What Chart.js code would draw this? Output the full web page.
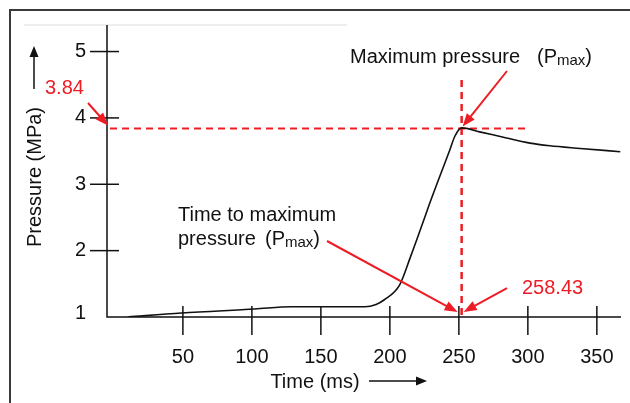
<!DOCTYPE html>
<html>
<head>
<meta charset="utf-8">
<script src="https://cdn.jsdelivr.net/npm/chart.js@4/dist/chart.umd.min.js"></script>
<style>
  html, body { margin: 0; padding: 0; background: #fff; }
  canvas { display: block; }
</style>
</head>
<body>
<canvas id="chart" width="630" height="403"></canvas>
<script>
// Curve (time in ms, pressure in MPa)
const timeMs = [10, 49, 102, 129, 151, 182, 190, 196, 207, 215, 222, 229, 236, 243.5, 247, 252, 265, 280, 301.5, 316, 338, 367];
const pressure = [1.00, 1.06, 1.12, 1.155, 1.155, 1.155, 1.19, 1.26, 1.48, 1.91, 2.31, 2.72, 3.11, 3.52, 3.72, 3.85, 3.79, 3.72, 3.62, 3.58, 3.54, 3.49];

// Tick labels
const xTicks = [50, 100, 150, 200, 250, 300, 350];
const yTicks = [1, 2, 3, 4, 5];

// Peak markers (as drawn) and their label texts
const peakTime = 252;
const peakPressure = 3.84;
const peakTimeLabel = '258.43';
const peakPressureLabel = '3.84';
const hLineTimes = [-2.8, 300];
const vLinePressures = [4.57, 1];

const RED = '#ee1c24';
const FONT = '"Liberation Sans", Arial, sans-serif';

function arrow(ctx, x1, y1, x2, y2) {
    const ang = Math.atan2(y2 - y1, x2 - x1);
    const len = 13, half = 5;
    ctx.save();
    ctx.strokeStyle = RED;
    ctx.fillStyle = RED;
    ctx.lineWidth = 2;
    ctx.beginPath();
    ctx.moveTo(x1, y1);
    ctx.lineTo(x2 - Math.cos(ang) * len * 0.8, y2 - Math.sin(ang) * len * 0.8);
    ctx.stroke();
    ctx.beginPath();
    ctx.moveTo(x2, y2);
    ctx.lineTo(x2 - Math.cos(ang) * len - Math.sin(ang) * half, y2 - Math.sin(ang) * len + Math.cos(ang) * half);
    ctx.lineTo(x2 - Math.cos(ang) * len + Math.sin(ang) * half, y2 - Math.sin(ang) * len - Math.cos(ang) * half);
    ctx.closePath();
    ctx.fill();
    ctx.restore();
}

// draws "(Pmax)" with a subscript, starting at x
function pmax(ctx, x, y) {
    ctx.font = '20px ' + FONT;
    ctx.fillText('(P', x, y);
    x += ctx.measureText('(P').width;
    ctx.font = '15px ' + FONT;
    ctx.fillText('max', x, y + 4);
    x += ctx.measureText('max').width;
    ctx.font = '20px ' + FONT;
    ctx.fillText(')', x, y);
    return x + ctx.measureText(')').width;
}

const axesPlugin = {
    id: 'handAxes',
    beforeDatasetsDraw(chart) {
        const ctx = chart.ctx;
        const xs = chart.scales.x, ys = chart.scales.y;
        const area = chart.chartArea;
        ctx.save();
        // frame
        ctx.strokeStyle = '#3a3a3a';
        ctx.lineWidth = 2;
        ctx.beginPath();
        ctx.moveTo(10, 403);
        ctx.lineTo(10, 10);
        ctx.lineTo(630, 10);
        ctx.stroke();
        ctx.strokeStyle = '#eeeeee';
        ctx.beginPath();
        ctx.moveTo(24, 25);
        ctx.lineTo(347, 25);
        ctx.stroke();

        // axes
        ctx.strokeStyle = '#111';
        ctx.lineWidth = 1.5;
        ctx.beginPath();
        ctx.moveTo(area.left, area.top);
        ctx.lineTo(area.left, area.bottom);
        ctx.lineTo(area.right, area.bottom);
        ctx.stroke();

        ctx.fillStyle = '#111';
        ctx.font = '20px ' + FONT;
        ctx.textBaseline = 'middle';
        ctx.textAlign = 'center';
        xTicks.forEach(v => {
            const px = xs.getPixelForValue(v);
            ctx.beginPath();
            ctx.moveTo(px, area.bottom - 11);
            ctx.lineTo(px, area.bottom + 18);
            ctx.stroke();
            ctx.fillText(String(v), px, area.bottom + 40);
        });
        ctx.textAlign = 'right';
        yTicks.forEach(v => {
            const py = ys.getPixelForValue(v);
            if (v > ys.min) {
                ctx.beginPath();
                ctx.moveTo(area.left - 17, py);
                ctx.lineTo(area.left + 12, py);
                ctx.stroke();
            }
            ctx.fillText(String(v), area.left - 21, v > ys.min ? py : py - 4);
        });

        // axis titles with arrows
        ctx.textAlign = 'center';
        ctx.fillText('Time (ms)', 315, 382);
        ctx.beginPath();
        ctx.moveTo(369, 381);
        ctx.lineTo(418, 381);
        ctx.stroke();
        ctx.beginPath();
        ctx.moveTo(427, 381);
        ctx.lineTo(416, 376.5);
        ctx.lineTo(416, 385.5);
        ctx.closePath();
        ctx.fill();

        ctx.save();
        ctx.translate(35, 177);
        ctx.rotate(-Math.PI / 2);
        ctx.fillText('Pressure (MPa)', 0, 0);
        ctx.restore();
        ctx.beginPath();
        ctx.moveTo(34, 89);
        ctx.lineTo(34, 56);
        ctx.stroke();
        ctx.beginPath();
        ctx.moveTo(34, 46);
        ctx.lineTo(29.5, 57);
        ctx.lineTo(38.5, 57);
        ctx.closePath();
        ctx.fill();
        ctx.restore();
    },
    afterDatasetsDraw(chart) {
        const ctx = chart.ctx;
        const xs = chart.scales.x, ys = chart.scales.y;
        const area = chart.chartArea;
        const peakX = xs.getPixelForValue(peakTime);
        const peakY = ys.getPixelForValue(peakPressure);
        ctx.save();
        ctx.textBaseline = 'middle';
        ctx.textAlign = 'left';

        // Maximum pressure label
        ctx.fillStyle = '#111';
        ctx.font = '20px ' + FONT;
        ctx.fillText('Maximum pressure', 350, 57);
        pmax(ctx, 537, 57);
        arrow(ctx, 507, 71, peakX + 1, peakY - 2);

        // Time to maximum pressure label
        ctx.fillStyle = '#111';
        ctx.font = '20px ' + FONT;
        ctx.fillText('Time to maximum', 178, 215);
        ctx.fillText('pressure', 178, 239);
        pmax(ctx, 265, 239);
        arrow(ctx, 327, 241, peakX - 4, area.bottom - 5);

        // red value labels
        ctx.fillStyle = RED;
        ctx.font = '20px ' + FONT;
        ctx.fillText(peakTimeLabel, 522, 288);
        arrow(ctx, 507, 288, peakX + 2, area.bottom - 5);
        ctx.fillText(peakPressureLabel, 45, 88);
        arrow(ctx, 88, 103, area.left + 1, peakY - 3);
        ctx.restore();
    }
};

function init() {
    const ctx = document.getElementById('chart').getContext('2d');
    new Chart(ctx, {
        type: 'line',
        data: {
            datasets: [
                {
                    data: timeMs.map((t, i) => ({ x: t, y: pressure[i] })),
                    borderColor: '#111',
                    borderWidth: 1.6,
                    pointRadius: 0,
                    cubicInterpolationMode: 'monotone'
                },
                {
                    data: hLineTimes.map(t => ({ x: t, y: peakPressure })),
                    borderColor: RED,
                    borderWidth: 2,
                    borderDash: [7, 5],
                    pointRadius: 0
                },
                {
                    data: vLinePressures.map(p => ({ x: peakTime, y: p })),
                    borderColor: RED,
                    borderWidth: 2.5,
                    borderDash: [7, 5],
                    pointRadius: 0
                }
            ]
        },
        options: {
            responsive: false,
            animation: false,
            devicePixelRatio: 1,
            layout: { padding: { left: 107, top: 25, right: 9, bottom: 86 } },
            plugins: { legend: { display: false }, tooltip: { enabled: false } },
            scales: {
                x: { type: 'linear', min: -5, max: 367.5, display: false },
                y: { type: 'linear', min: 1, max: 5.4, display: false }
            }
        },
        plugins: [axesPlugin]
    });
}

window.onload = init;
</script>
</body>
</html>
